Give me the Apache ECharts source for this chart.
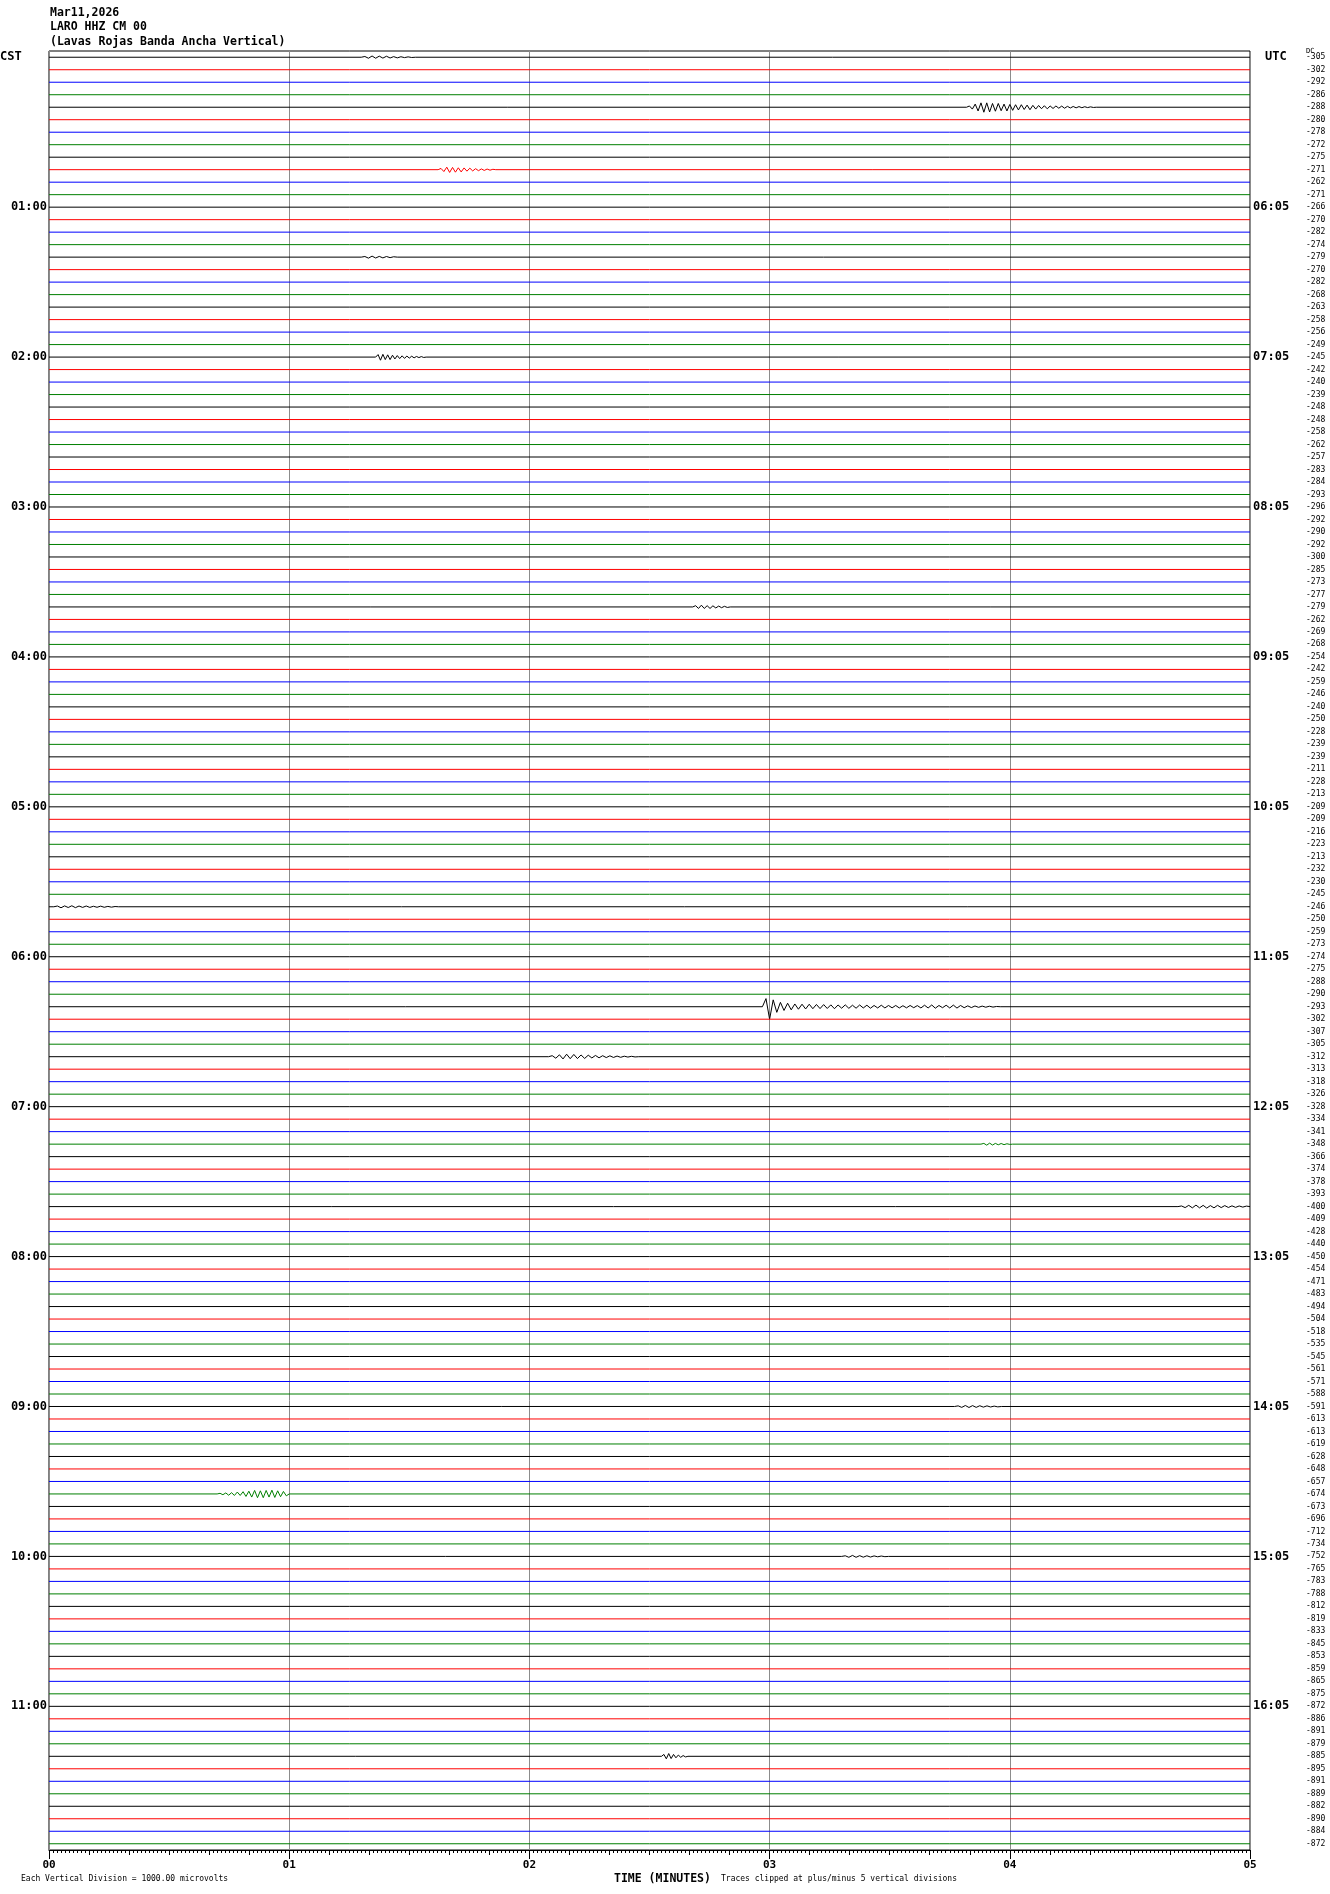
<!DOCTYPE html>
<html>
<head>
<meta charset="utf-8">
<script src="https://cdn.jsdelivr.net/npm/echarts@6/dist/echarts.min.js"></script>
<style>
html,body{margin:0;padding:0;background:#fff;}
#chart{width:1330px;height:1894px;}
</style>
</head>
<body>
<div id="chart"></div>
<script>
// ---------------- DATA ----------------
const traceCount = 144;
const traceColors = ['#000000', '#ff0000', '#0000ff', '#007f00'];
const minuteTicks = ['00', '01', '02', '03', '04', '05'];
const cstHourLabels = ['01:00','02:00','03:00','04:00','05:00','06:00','07:00','08:00','09:00','10:00','11:00'];
const utcHourLabels = ['06:05','07:05','08:05','09:05','10:05','11:05','12:05','13:05','14:05','15:05','16:05'];
const traceMeans = [
  -305,-302,-292,-286,-288,-280,-278,-272,-275,-271,-262,-271,
  -266,-270,-282,-274,-279,-270,-282,-268,-263,-258,-256,-249,
  -245,-242,-240,-239,-248,-248,-258,-262,-257,-283,-284,-293,
  -296,-292,-290,-292,-300,-285,-273,-277,-279,-262,-269,-268,
  -254,-242,-259,-246,-240,-250,-228,-239,-239,-211,-228,-213,
  -209,-209,-216,-223,-213,-232,-230,-245,-246,-250,-259,-273,
  -274,-275,-288,-290,-293,-302,-307,-305,-312,-313,-318,-326,
  -328,-334,-341,-348,-366,-374,-378,-393,-400,-409,-428,-440,
  -450,-454,-471,-483,-494,-504,-518,-535,-545,-561,-571,-588,
  -591,-613,-613,-619,-628,-648,-657,-674,-673,-696,-712,-734,
  -752,-765,-783,-788,-812,-819,-833,-845,-853,-859,-865,-875,
  -872,-886,-891,-879,-885,-895,-891,-889,-882,-890,-884,-872
];
// seismic events: trace index, start minute, sample step (minutes), amplitudes in vertical divisions
const eventTrace = [0, 4, 9, 16, 24, 44, 68, 76, 80, 87, 92, 108, 115, 120, 136];
const eventStart = [1.30, 3.82, 1.62, 1.30, 1.36, 2.68, 0.02, 2.97, 2.08, 3.88, 4.70, 3.77, 0.70, 3.30, 2.55];
const eventStep  = [0.015, 0.012, 0.012, 0.015, 0.010, 0.012, 0.015, 0.015, 0.015, 0.012, 0.015, 0.015, 0.012, 0.015, 0.010];
const eventValues = [
  [0,0.06,-0.08,0.1,-0.08,0.09,-0.07,0.08,-0.06,0.05,-0.05,0.04,-0.03,0.03,-0.02,0],
  [0,0.1,-0.15,0.25,-0.3,0.35,-0.4,0.35,-0.38,0.3,-0.32,0.3,-0.28,0.25,-0.3,0.22,-0.25,0.2,-0.22,0.2,-0.18,0.17,-0.2,0.15,-0.15,0.14,-0.12,0.12,-0.13,0.1,-0.1,0.1,-0.08,0.09,-0.08,0.07,-0.06,0.06,-0.05,0.05,-0.04,0.04,-0.03,0.03,-0.02,0],
  [0,0.1,-0.15,0.2,-0.22,0.18,-0.2,0.15,-0.18,0.14,-0.12,0.12,-0.1,0.08,-0.08,0.06,-0.06,0.05,-0.04,0.03,0],
  [0,0.05,-0.08,0.08,-0.07,0.06,-0.06,0.05,-0.04,0.03,0],
  [0,0.2,-0.25,0.22,-0.2,0.18,-0.2,0.15,-0.15,0.12,-0.12,0.1,-0.1,0.08,-0.08,0.07,-0.06,0.05,-0.04,0.04,-0.03,0],
  [0,0.1,-0.12,0.14,-0.12,0.1,-0.12,0.09,-0.08,0.07,-0.06,0.05,-0.04,0],
  [0,0.06,-0.08,0.07,-0.06,0.08,-0.07,0.06,-0.05,0.06,-0.05,0.04,-0.04,0.05,-0.04,0.03,-0.03,0.02,0],
  [0,0.65,-1.0,0.55,-0.45,0.35,-0.3,0.28,-0.25,0.22,-0.2,0.2,-0.18,0.2,-0.16,0.18,-0.15,0.17,-0.14,0.15,-0.16,0.14,-0.12,0.15,-0.13,0.12,-0.12,0.14,-0.1,0.12,-0.12,0.1,-0.1,0.12,-0.1,0.1,-0.09,0.1,-0.1,0.08,-0.09,0.1,-0.08,0.09,-0.1,0.12,-0.1,0.14,-0.12,0.1,-0.08,0.12,-0.1,0.13,-0.11,0.1,-0.08,0.07,-0.07,0.06,-0.05,0.05,-0.04,0.04,-0.03,0.02,0],
  [0,0.08,-0.12,0.15,-0.18,0.2,-0.16,0.18,-0.15,0.14,-0.14,0.12,-0.1,0.1,-0.09,0.08,-0.07,0.07,-0.06,0.05,-0.05,0.04,-0.03,0.03,-0.02,0],
  [0,0.06,-0.08,0.08,-0.07,0.06,-0.05,0.05,-0.04,0.03,-0.02,0],
  [0,0.05,-0.08,0.1,-0.1,0.12,-0.1,0.1,-0.12,0.08,-0.1,0.1,-0.08,0.08,-0.07,0.06,-0.06,0.05,-0.04,0.04,0],
  [0,0.05,-0.07,0.08,-0.08,0.07,-0.07,0.06,-0.05,0.05,-0.04,0.03,-0.03,0],
  [0,0.05,-0.06,0.08,-0.1,0.1,-0.12,0.15,-0.12,0.18,-0.2,0.22,-0.25,0.28,-0.3,0.25,-0.3,0.28,-0.25,0.3,-0.28,0.25,-0.22,0.2,-0.15,0],
  [0,0.05,-0.07,0.08,-0.07,0.06,-0.06,0.05,-0.05,0.04,-0.03,0.03,-0.02,0],
  [0,0.15,-0.2,0.22,-0.18,0.15,-0.12,0.1,-0.08,0.06,-0.05,0]
];

// ---------------- BUILD ----------------
const MONO = '"DejaVu Sans Mono", "Liberation Mono", monospace';
const leftLabels = [], rightLabels = [], numLabels = [];
for (let i = 0; i < traceCount; i++) {
  const h = i / 12;
  leftLabels.push(i > 0 && i % 12 === 0 ? cstHourLabels[h - 1] : '');
  rightLabels.push(i > 0 && i % 12 === 0 ? utcHourLabels[h - 1] : '');
  numLabels.push(String(traceMeans[i]));
}

const series = [];
for (let i = 0; i < traceCount; i++) {
  const pts = [[0, i]];
  eventTrace.forEach((t, e) => {
    if (t !== i) return;
    eventValues[e].forEach((v, k) => {
      pts.push([eventStart[e] + k * eventStep[e], i - v]);
    });
  });
  pts.push([5, i]);
  series.push({
    type: 'line', xAxisIndex: 0, yAxisIndex: 3, data: pts,
    symbol: 'none', silent: true, animation: false,
    lineStyle: { color: traceColors[i % 4], width: 1 }
  });
}

const G = { left: 49, right: 80, top: 51, bottom: 44, containLabel: false };
const chart = echarts.init(document.getElementById('chart'), null, { renderer: 'canvas' });
chart.setOption({
  backgroundColor: '#ffffff',
  animation: false,
  grid: [
    Object.assign({ show: true, borderColor: '#000', borderWidth: 1, backgroundColor: 'transparent' }, G),
    Object.assign({ show: false }, G),
    Object.assign({ show: false }, G)
  ],
  xAxis: [
    {
      gridIndex: 0, type: 'value', position: 'bottom', min: 0, max: 5, interval: 1,
      axisLine: { show: true, onZero: false, lineStyle: { color: '#000', width: 1 } },
      axisTick: { show: true, length: 9, lineStyle: { color: '#000' } },
      minorTick: { show: false },
      axisLabel: { show: true, margin: 10, color: '#000', fontFamily: MONO, fontWeight: 'bold', fontSize: 11,
        formatter: v => minuteTicks[Math.round(v)] },
      splitLine: { show: true, lineStyle: { color: '#8c8c8c', width: 1 } }
    },
    {
      gridIndex: 1, type: 'value', position: 'bottom', min: 0, max: 300, interval: 10,
      axisLine: { show: false, onZero: false }, axisLabel: { show: false }, splitLine: { show: false },
      axisTick: { show: true, length: 5, lineStyle: { color: '#000' } }
    },
    {
      gridIndex: 2, type: 'value', position: 'bottom', min: 0, max: 300, interval: 1,
      axisLine: { show: false, onZero: false }, axisLabel: { show: false }, splitLine: { show: false },
      axisTick: { show: true, length: 3, lineStyle: { color: '#000' } }
    }
  ],
  yAxis: [
    {
      gridIndex: 0, type: 'category', position: 'left', inverse: true, data: leftLabels,
      axisLine: { show: false }, axisTick: { show: false },
      axisLabel: { show: true, interval: 0, margin: 2, color: '#000', fontFamily: MONO, fontWeight: 'bold', fontSize: 12 },
      splitLine: { show: false }
    },
    {
      gridIndex: 0, type: 'category', position: 'right', inverse: true, data: rightLabels,
      axisLine: { show: false }, axisTick: { show: false },
      axisLabel: { show: true, interval: 0, margin: 3, color: '#000', fontFamily: MONO, fontWeight: 'bold', fontSize: 12 },
      splitLine: { show: false }
    },
    {
      gridIndex: 0, type: 'category', position: 'right', offset: 56, inverse: true, data: numLabels,
      axisLine: { show: false }, axisTick: { show: false },
      axisLabel: { show: true, interval: 0, margin: 0, color: '#000', fontFamily: MONO, fontSize: 8 },
      splitLine: { show: false }
    },
    { gridIndex: 0, type: 'value', inverse: true, min: -0.5, max: 143.5, show: false },
    { gridIndex: 1, type: 'value', min: 0, max: 1, show: false },
    { gridIndex: 2, type: 'value', min: 0, max: 1, show: false }
  ],
  series: series,
  graphic: [
    { type: 'text', left: 50, top: 7, style: { text: 'Mar11,2026', font: 'bold 11.5px ' + MONO, fill: '#000' } },
    { type: 'text', left: 50, top: 21, style: { text: 'LARO HHZ CM 00', font: 'bold 11.5px ' + MONO, fill: '#000' } },
    { type: 'text', left: 50, top: 36, style: { text: '(Lavas Rojas Banda Ancha Vertical)', font: 'bold 11.5px ' + MONO, fill: '#000' } },
    { type: 'text', left: 0, top: 51, style: { text: 'CST', font: 'bold 12px ' + MONO, fill: '#000' } },
    { type: 'text', left: 1265, top: 51, style: { text: 'UTC', font: 'bold 12px ' + MONO, fill: '#000' } },
    { type: 'text', left: 1306, top: 48, style: { text: 'DC', font: '7px ' + MONO, fill: '#000' } },
    { type: 'text', left: 21, top: 1875, style: { text: 'Each Vertical Division = 1000.00 microvolts', font: '8px ' + MONO, fill: '#000' } },
    { type: 'text', left: 614, top: 1873, style: { text: 'TIME (MINUTES)', font: 'bold 11.5px ' + MONO, fill: '#000' } },
    { type: 'text', left: 721, top: 1875, style: { text: 'Traces clipped at plus/minus 5 vertical divisions', font: '8px ' + MONO, fill: '#000' } }
  ]
});
</script>
</body>
</html>
